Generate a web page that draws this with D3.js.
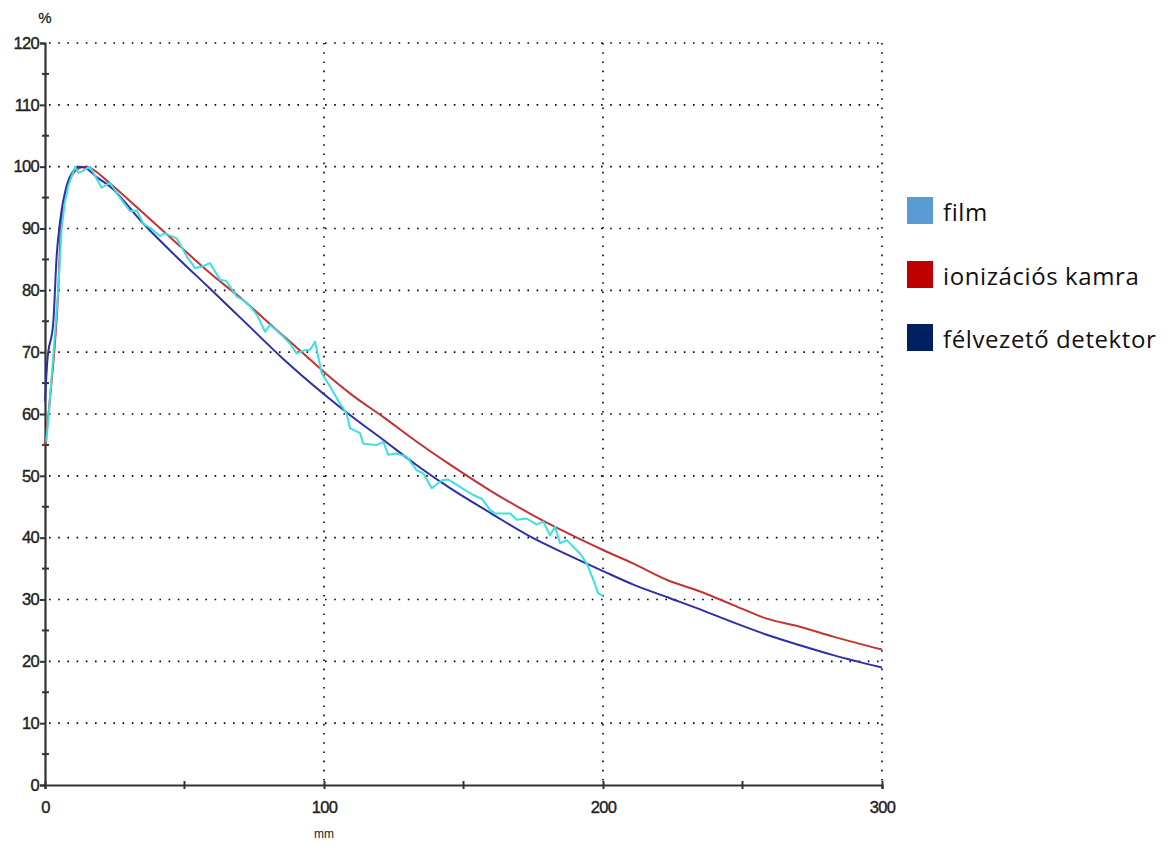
<!DOCTYPE html>
<html>
<head>
<meta charset="utf-8">
<script src="https://cdn.jsdelivr.net/npm/d3@7.9.0/dist/d3.min.js"></script>
<style>
  html, body { margin: 0; padding: 0; background: #fff; }
  svg { display: block; }
</style>
</head>
<body>
<div id="chart"></div>
<script>
// depth (mm), relative dose (%)
const filmDepth = [0.5, 1.5, 3, 4.8, 5.9, 7, 8.4, 10.8, 12, 13.1, 16.1, 18, 20.3, 23.3, 26, 30.5, 32.9, 35.2, 38, 41.2, 43, 47.2, 50.8, 53.8, 56, 59.1, 62.7, 65, 68.7, 71.1, 73.5, 76, 78.9, 80.6, 83, 85.4, 87.8, 90.2, 93, 95, 96.8, 99.2, 102.2, 105.7, 108.1, 109.3, 112.9, 114.1, 118.9, 121.3, 123, 126, 129.6, 133.2, 135.6, 138.6, 142.2, 144.6, 148.7, 153.5, 156.5, 159.5, 161.3, 166.7, 169.1, 172.6, 176.2, 178.6, 181, 182.8, 184.6, 187, 191.8, 194.2, 196.5, 198.3, 200];
const filmDose = [55.5, 61, 69.5, 80.4, 89.6, 94, 97, 100, 99, 99.2, 100, 98.5, 96.6, 97.4, 95.5, 92.8, 92.9, 90.8, 90, 88.8, 89.2, 88.4, 85.5, 83.6, 83.8, 84.4, 81.7, 81.5, 79.0, 78.4, 77.4, 76, 73.3, 74.4, 73.5, 72.5, 71.4, 69.8, 70.3, 70.4, 71.7, 66.6, 64.4, 61.7, 60.1, 57.7, 56.9, 55.2, 55.0, 55.5, 53.4, 53.6, 53.1, 50.9, 50.4, 48.0, 49.3, 49.4, 48.2, 46.9, 46.3, 44.5, 43.9, 43.9, 42.9, 43.1, 42.1, 42.6, 40.4, 41.8, 39.1, 39.6, 37.4, 35.8, 33.2, 31.0, 30.6];

const ionDepth = [0, 0.8, 1.8, 3.6, 4.8, 5.6, 7.8, 10, 12.5, 15, 18, 22, 35.2, 47.2, 59.1, 71.1, 83, 93.8, 100, 110, 121.3, 133, 145.2, 160, 173.8, 187, 200, 210.9, 222.8, 234.8, 246.7, 258.7, 270.6, 282.5, 300];
const ionDose = [55, 58, 62.6, 71.7, 80.4, 89.5, 96.6, 98.8, 99.8, 100, 99.3, 97.8, 92.5, 87.6, 82.8, 78.4, 73.6, 69.3, 66.8, 63.1, 59.5, 55.6, 51.8, 47.5, 43.9, 40.8, 38.0, 35.8, 33.2, 31.3, 29.1, 26.9, 25.6, 24.0, 21.9];

const semiDepth = [0, 0.8, 3, 4.2, 5.4, 7.8, 10, 12.5, 15, 18, 23.3, 35.2, 47.2, 59.1, 71.1, 85.4, 100, 110, 121.3, 133, 145.2, 160, 173.8, 187, 200, 210.9, 222.8, 234.8, 246.7, 258.7, 270.6, 282.5, 300];
const semiDose = [62, 68.4, 75, 85.7, 91.1, 97, 99.2, 100, 99.7, 98.5, 96.8, 90.8, 85.4, 80.3, 75.1, 68.9, 63.2, 59.6, 55.8, 51.8, 48.0, 43.9, 40.2, 37.3, 34.6, 32.4, 30.4, 28.4, 26.3, 24.3, 22.6, 21.0, 19.0];

const yMajor = [0, 10, 20, 30, 40, 50, 60, 70, 80, 90, 100, 110, 120];
const yMinor = [5, 15, 25, 35, 45, 55, 65, 75, 85, 95, 105, 115];
const xMajor = [0, 100, 200, 300];
const xMinor = [50, 150, 250];

const legendNames = ['film', 'ionizációs kamra', 'félvezető detektor'];
const legendColors = ['#5b9bd5', '#c00000', '#002060'];

const width = 1168, height = 846;
const svg = d3.select('#chart').append('svg')
    .attr('width', width)
    .attr('height', height);

const x = d3.scaleLinear().domain([0, 300]).range([45, 882]);
const y = d3.scaleLinear().domain([0, 120]).range([785, 43]);

const axisFont = '"Liberation Sans", Arial, sans-serif';

// dotted grid
svg.append('g')
    .selectAll('line')
    .data(yMajor.filter(d => d > 0))
    .join('line')
    .attr('x1', x(0) + 4)
    .attr('x2', x(300))
    .attr('y1', d => y(d))
    .attr('y2', d => y(d))
    .attr('stroke', '#000')
    .attr('stroke-width', 1.6)
    .attr('stroke-dasharray', '1.6,7.6');

svg.append('g')
    .selectAll('line')
    .data(xMajor.filter(d => d > 0))
    .join('line')
    .attr('x1', d => x(d))
    .attr('x2', d => x(d))
    .attr('y1', y(120))
    .attr('y2', y(0) - 3)
    .attr('stroke', '#000')
    .attr('stroke-width', 1.6)
    .attr('stroke-dasharray', '1.6,7.6');

// axes
const yAxis = svg.append('g')
    .attr('transform', `translate(${x(0)},0)`)
    .call(d3.axisLeft(y).tickValues(yMajor).tickSize(5).tickPadding(1));
yAxis.select('.domain').attr('stroke', '#333').attr('stroke-width', 2.2);
yAxis.selectAll('.tick line').attr('stroke', '#333').attr('stroke-width', 2);
yAxis.selectAll('.tick text')
    .attr('font-family', axisFont)
    .attr('font-size', 16.5)
    .attr('letter-spacing', -0.7)
    .attr('fill', '#222')
    .attr('stroke', '#222')
    .attr('stroke-width', 0.4);

svg.append('g')
    .selectAll('line')
    .data(yMinor)
    .join('line')
    .attr('x1', x(0) - 3)
    .attr('x2', x(0) + 4)
    .attr('y1', d => y(d))
    .attr('y2', d => y(d))
    .attr('stroke', '#333')
    .attr('stroke-width', 2);

const xAxis = svg.append('g')
    .attr('transform', `translate(0,${y(0)})`)
    .call(d3.axisBottom(x).tickValues(xMajor).tickSize(4).tickPadding(12));
xAxis.select('.domain').attr('stroke', '#333').attr('stroke-width', 2.2);
xAxis.selectAll('.tick line').attr('stroke', '#333').attr('stroke-width', 2).attr('y1', -4);
xAxis.selectAll('.tick text')
    .attr('font-family', axisFont)
    .attr('font-size', 16.5)
    .attr('letter-spacing', -0.7)
    .attr('fill', '#222')
    .attr('stroke', '#222')
    .attr('stroke-width', 0.4);

svg.append('g')
    .selectAll('line')
    .data(xMinor)
    .join('line')
    .attr('x1', d => x(d))
    .attr('x2', d => x(d))
    .attr('y1', y(0) - 4)
    .attr('y2', y(0) + 4)
    .attr('stroke', '#333')
    .attr('stroke-width', 2);

// axis units
svg.append('text')
    .attr('x', x(0))
    .attr('y', 23)
    .attr('text-anchor', 'middle')
    .attr('font-family', axisFont)
    .attr('font-size', 15)
    .attr('fill', '#222')
    .attr('stroke', '#222')
    .attr('stroke-width', 0.3)
    .text('%');

svg.append('text')
    .attr('x', x(100))
    .attr('y', 838)
    .attr('text-anchor', 'middle')
    .attr('font-family', axisFont)
    .attr('font-size', 12)
    .attr('fill', '#222')
    .text('mm');

// curves
const smooth = d3.line()
    .x(d => x(d[0]))
    .y(d => y(d[1]))
    .curve(d3.curveMonotoneX);

const jagged = d3.line()
    .x(d => x(d[0]))
    .y(d => y(d[1]));

const series = [
    { depth: ionDepth, dose: ionDose, color: '#c43333', gen: smooth },
    { depth: semiDepth, dose: semiDose, color: '#2e2ea8', gen: smooth },
    { depth: filmDepth, dose: filmDose, color: '#3de0e0', gen: jagged }
];

series.forEach(s => {
    const pts = d3.zip(s.depth, s.dose);
    svg.append('path')
        .attr('d', s.gen(pts))
        .attr('fill', 'none')
        .attr('stroke', s.color)
        .attr('stroke-width', 2)
        .attr('stroke-linejoin', 'round');
});

// legend
const legendY = [197, 261, 324];
const legend = svg.append('g');
legendNames.forEach((name, i) => {
    legend.append('rect')
        .attr('x', 907)
        .attr('y', legendY[i])
        .attr('width', 26)
        .attr('height', 27)
        .attr('fill', legendColors[i]);
    legend.append('text')
        .attr('x', 943)
        .attr('y', legendY[i] + 24)
        .attr('font-family', '"Open Sans", "Noto Sans", sans-serif')
        .attr('font-size', 24)
        .attr('letter-spacing', 0.6)
        .attr('fill', '#111')
        .text(name);
});
</script>
</body>
</html>
